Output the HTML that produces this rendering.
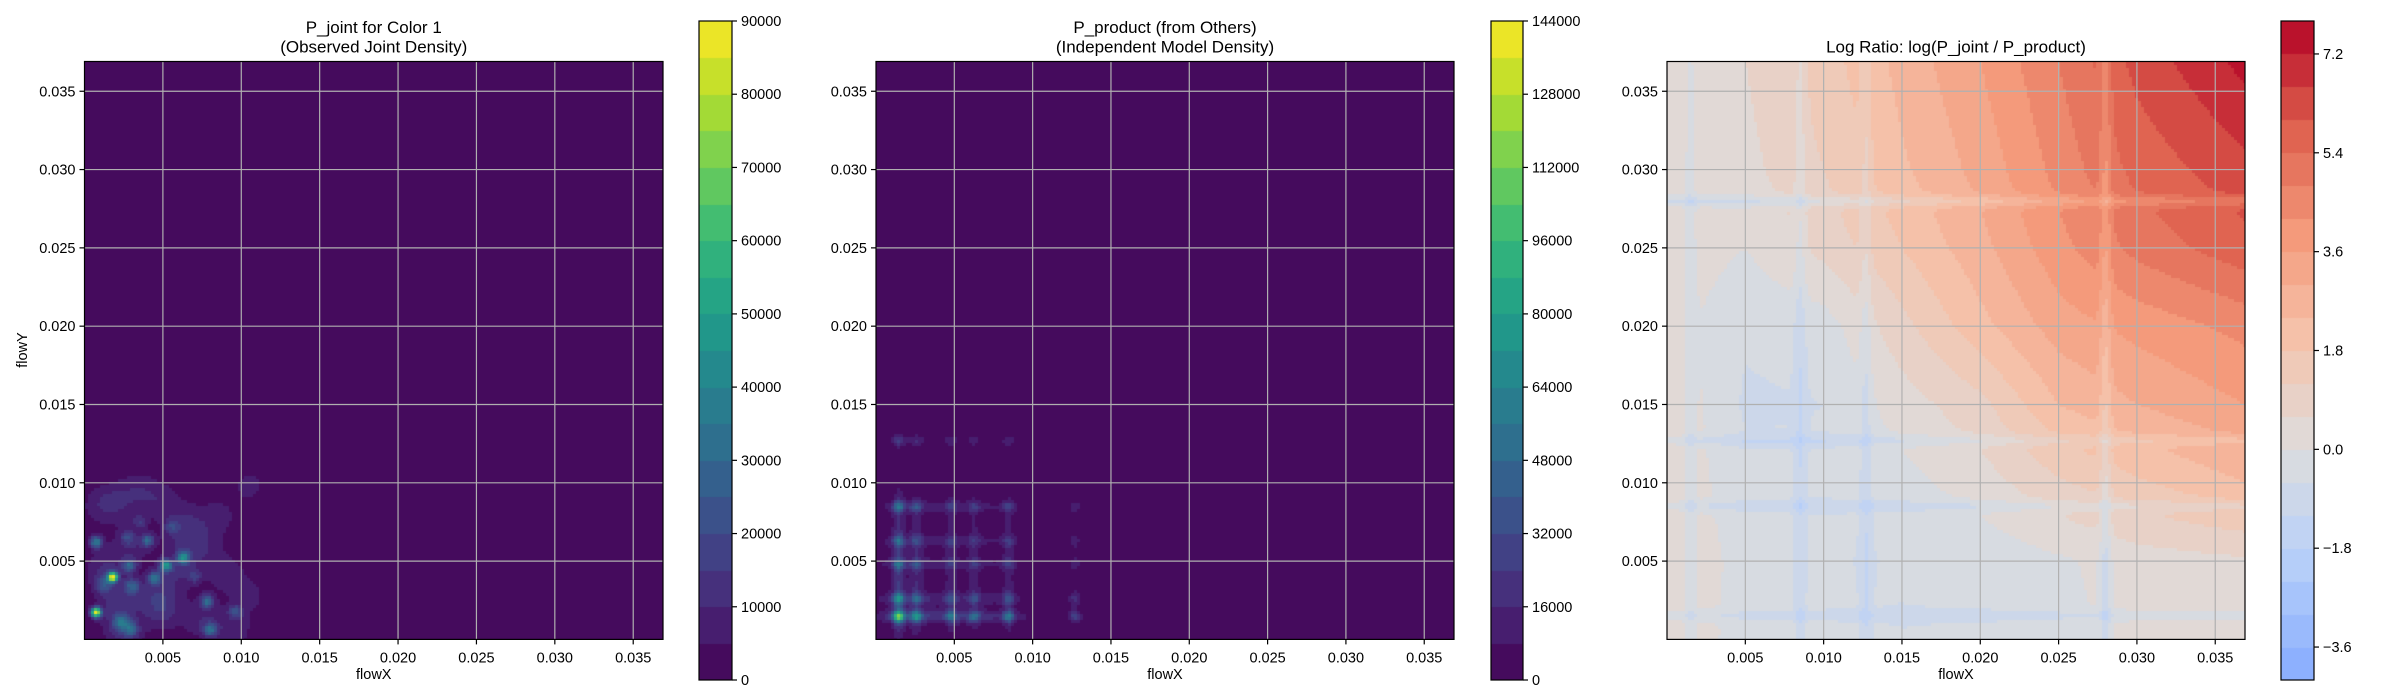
<!DOCTYPE html>
<html><head><meta charset="utf-8">
<style>
body{margin:0;background:#fff;width:2400px;height:700px;overflow:hidden;font-family:"Liberation Sans","DejaVu Sans",sans-serif;}
#root{position:relative;width:2400px;height:700px;}
canvas{position:absolute;}
svg{position:absolute;left:0;top:0;}
</style></head>
<body>
<div id="root">
<canvas id="c1"></canvas>
<canvas id="c2"></canvas>
<canvas id="c3"></canvas>
<canvas id="cb1"></canvas>
<canvas id="cb2"></canvas>
<canvas id="cb3"></canvas>
<svg id="ov" width="2400" height="700"></svg>
</div>
<script>
// ---- data ----
const axisTicks=[0.005,0.010,0.015,0.020,0.025,0.030,0.035];
const axisTickLabels=["0.005","0.010","0.015","0.020","0.025","0.030","0.035"];
const AXMAX=0.0369;
// joint density peaks: x, y, amplitude, sigma
const jointX=[0.00071,0.00177,0.00071,0.00517,0.00627,0.0040,0.00283,0.00443,0.0030,0.0023,0.00294,0.0078,0.0080,0.0096,0.0012,0.0035,0.0027,0.0055,0.0070];
const jointY=[0.0017,0.00396,0.0062,0.0047,0.0052,0.0063,0.00467,0.0039,0.00336,0.00104,0.0006,0.0024,0.0006,0.00176,0.0035,0.0075,0.0065,0.0072,0.0040];
const jointA=[85000,85000,35000,42000,38000,26000,26000,28000,24000,24000,22000,28000,26000,18000,18000,12000,14000,12000,12000];
const jointS=[0.00022,0.00022,0.00028,0.00028,0.00028,0.00028,0.0003,0.0003,0.00035,0.00035,0.0003,0.0003,0.0003,0.0003,0.0004,0.0003,0.0003,0.0003,0.0003];
// lumpy background blobs of joint density
const bgX=[0.002,0.0035,0.005,0.0065,0.0085,0.003,0.006,0.009,0.002,0.005,0.0075,0.0105,0.0105,0.0013,0.0075,0.0045,0.0025,0.0095,0.0062,0.0009];
const bgY=[0.0088,0.0095,0.0088,0.0075,0.0078,0.006,0.0043,0.0042,0.0022,0.0018,0.0012,0.0028,0.0098,0.0045,0.0058,0.0028,0.0005,0.0006,0.0065,0.0085];
const bgA=[8000,7500,7500,7000,7000,9000,9000,8000,11000,10000,9000,6500,6500,10000,8000,10000,11000,8000,7500,6500];
// product model marginal peaks
const prodPos=[0.00144,0.00258,0.0048,0.00627,0.00846,0.01268];
const prodWx=[1.0,0.55,0.42,0.38,0.5,0.25];
const prodWy=[1.0,0.55,0.42,0.38,0.5,0.24];
const prodBase=[0.18,0.18,0.14,0.14,0.13,0.05];
const prodPeak=72000;
// log ratio coarse grid (rows: y from top to 0.0)
const lrGridX=[0.0,0.005,0.010,0.015,0.020,0.025,0.030,0.0369];
const lrGridY=[0.0369,0.030,0.025,0.020,0.015,0.010,0.005,0.0];
const lrGrid=[
[0.5,0.6,1.5,2.6,3.6,4.8,6.2,7.4],
[0.3,0.4,1.2,2.3,3.2,4.4,5.6,6.4],
[0.4,0.0,0.8,1.8,2.8,4.0,5.0,5.8],
[0.3,-0.5,-0.3,1.0,2.2,3.3,3.8,4.4],
[0.6,-0.7,-0.6,0.3,1.0,2.4,3.0,3.6],
[0.5,-0.4,-0.5,-0.2,0.3,1.1,1.7,2.4],
[0.5,-0.2,-0.6,-0.6,-0.4,-0.1,0.3,0.5],
[0.4,-0.2,-0.3,-0.6,-0.5,-0.2,0.2,0.3]];
const lrStripePos=[0.0015,0.0085,0.0127,0.028];
const lrStripeAmp=[-0.6,-0.7,-0.7,-1.0];
// colorbar ticks
const cb1Ticks=[0,10000,20000,30000,40000,50000,60000,70000,80000,90000];
const cb2Ticks=[0,16000,32000,48000,64000,80000,96000,112000,128000,144000];
const cb3Ticks=[-3.6,-1.8,0.0,1.8,3.6,5.4,7.2];
const cb3Labels=["\u22123.6","\u22121.8","0.0","1.8","3.6","5.4","7.2"];

// ---- layout ----
const Y0=61.5,Y1=639.4;
const panels=[{x0:84.5,x1:663},{x0:876,x1:1454},{x0:1667,x1:2245}];
const cbs=[{x0:699,x1:732},{x0:1491,x1:1523},{x0:2281,x1:2314}];
const CBY0=21,CBY1=680;

const viridis=[[68,1,84],[72,40,120],[62,73,137],[49,104,142],[38,130,142],[31,158,137],[53,183,121],[110,206,88],[181,222,43],[253,231,37]];
const coolwarm=[[59,76,192],[98,130,234],[141,176,254],[184,208,249],[221,221,221],[245,196,173],[244,154,123],[222,96,77],[180,4,38]];
function cmap(tab,t){t=Math.max(0,Math.min(1,t));const f=t*(tab.length-1);const i=Math.min(tab.length-2,Math.floor(f));const r=f-i;
 return tab[i].map((v,k)=>Math.round(v+(tab[i+1][k]-v)*r));}

function gauss(dx,dy,s){return Math.exp(-(dx*dx+dy*dy)/(2*s*s));}
function fJoint(x,y){let v=0;for(let i=0;i<jointX.length;i++)v+=jointA[i]*gauss(x-jointX[i],y-jointY[i],jointS[i]);
 for(let i=0;i<bgX.length;i++)v+=bgA[i]*gauss(x-bgX[i],y-bgY[i],0.0009);return v;}
function marg(p,w){let v=0;for(let i=0;i<prodPos.length;i++){const d=(p-prodPos[i]);v+=w[i]*Math.exp(-d*d/(2*0.00025*0.00025));v+=prodBase[i]*Math.exp(-d*d/(2*0.0012*0.0012));}return v;}
function fProd(x,y){return prodPeak*marg(x,prodWx)*marg(y,prodWy);}
function interp(arr,v){
 const asc=arr[0]<arr[arr.length-1];for(let i=0;i<arr.length-1;i++){const a=arr[i],b=arr[i+1];
 if((asc&&v>=a&&v<=b)||(!asc&&v<=a&&v>=b))return i+(v-a)/(b-a);}return (asc? (v<arr[0]?0:arr.length-1):(v>arr[0]?0:arr.length-1));}
function fRatio(x,y){const fi=interp(lrGridX,x),fj=interp(lrGridY,y);const i=Math.min(6,Math.floor(fi)),j=Math.min(6,Math.floor(fj));const a=fi-i,b=fj-j;
 let v=lrGrid[j][i]*(1-a)*(1-b)+lrGrid[j][i+1]*a*(1-b)+lrGrid[j+1][i]*(1-a)*b+lrGrid[j+1][i+1]*a*b;
 for(let k=0;k<lrStripePos.length;k++){v+=lrStripeAmp[k]*Math.exp(-Math.pow(x-lrStripePos[k],2)/(2*0.00025*0.00025));v+=lrStripeAmp[k]*Math.exp(-Math.pow(y-lrStripePos[k],2)/(2*0.00025*0.00025));}
 return v;}

const specs=[
 {f:fJoint,lo:0,hi:90000,step:5000,col:(m)=>cmap(viridis,m/90000)},
 {f:fProd,lo:0,hi:144000,step:8000,col:(m)=>cmap(viridis,m/144000)},
 {f:fRatio,lo:-4.2,hi:7.8,step:0.6,col:(m)=>cmap(coolwarm,0.5+m/15.6)}];

function place(c,x,y,w,h){c.style.left=x+'px';c.style.top=y+'px';c.width=w;c.height=h;}
specs.forEach((s,k)=>{
 const p=panels[k];const c=document.getElementById('c'+(k+1));const x0=Math.round(p.x0),w=Math.round(p.x1)-x0,y0=Math.round(Y0),h=Math.round(Y1)-y0;
 place(c,x0,y0,w,h);const ctx=c.getContext('2d');const img=ctx.createImageData(w,h);
 const g=3;
 for(let py=0;py<h;py+=g)for(let px=0;px<w;px+=g){
  const dx=(px+g/2)/w*AXMAX,dy=(1-(py+g/2)/h)*AXMAX;let v=s.f(dx,dy);
  let lv=Math.floor((v-s.lo)/s.step);lv=Math.max(0,Math.min(Math.round((s.hi-s.lo)/s.step)-1,lv));
  const col=s.col(s.lo+(lv+0.5)*s.step);
  for(let yy=py;yy<Math.min(h,py+g);yy++)for(let xx=px;xx<Math.min(w,px+g);xx++){const o=(yy*w+xx)*4;img.data[o]=col[0];img.data[o+1]=col[1];img.data[o+2]=col[2];img.data[o+3]=255;}
 }
 ctx.putImageData(img,0,0);
 const cb=cbs[k];const cc=document.getElementById('cb'+(k+1));const cw=Math.round(cb.x1-cb.x0),ch=CBY1-CBY0;place(cc,Math.round(cb.x0),CBY0,cw,ch);
 const cx=cc.getContext('2d');const n=Math.round((s.hi-s.lo)/s.step);
 for(let i=0;i<n;i++){const col=s.col(s.lo+(i+0.5)*s.step);cx.fillStyle=`rgb(${col})`;const ya=ch-(i+1)/n*ch,yb=ch-i/n*ch;cx.fillRect(0,Math.floor(ya),cw,Math.ceil(yb)-Math.floor(ya));}
});

// ---- overlay ----
const NS='http://www.w3.org/2000/svg';const ov=document.getElementById('ov');
function el(t,a,txt){const e=document.createElementNS(NS,t);for(const k in a)e.setAttribute(k,a[k]);if(txt!==undefined)e.textContent=txt;ov.appendChild(e);return e;}
function sx(p,v){return p.x0+v/AXMAX*(p.x1-p.x0);}
function sy(v){return Y1-v/AXMAX*(Y1-Y0);}
const titles=[["P_joint for Color 1","(Observed Joint Density)"],["P_product (from Others)","(Independent Model Density)"],["Log Ratio: log(P_joint / P_product)"]];
panels.forEach((p,k)=>{
 axisTicks.forEach((t,i)=>{
  let g=el('line',{x1:sx(p,t),x2:sx(p,t),y1:Y0,y2:Y1,stroke:'#b0b0b0','stroke-width':1.2});
  
  g=el('line',{x1:p.x0,x2:p.x1,y1:sy(t),y2:sy(t),stroke:'#b0b0b0','stroke-width':1.2});
  
  el('line',{x1:sx(p,t),x2:sx(p,t),y1:Y1,y2:Y1+5,stroke:'#000','stroke-width':1.2});
  el('line',{x1:p.x0-5,x2:p.x0,y1:sy(t),y2:sy(t),stroke:'#000','stroke-width':1.2});
  let lx=el('text',{x:sx(p,t),y:Y1+23,'text-anchor':'middle','font-size':14.5},axisTickLabels[i]);
  
  let ly=el('text',{x:p.x0-9,y:sy(t)+5,'text-anchor':'end','font-size':14.5},axisTickLabels[i]);
  
 });
 const fr=el('rect',{x:p.x0,y:Y0,width:p.x1-p.x0,height:Y1-Y0,fill:'none',stroke:'#000','stroke-width':1.2});
 
 const cxm=(p.x0+p.x1)/2;const tl=titles[k];
 tl.forEach((s,i)=>{const y=tl.length===2?(33+i*19.5):52.5;const t=el('text',{x:cxm,y:y,'text-anchor':'middle','font-size':17},s);
  });
 const xl=el('text',{x:cxm,y:679,'text-anchor':'middle','font-size':14.5},'flowX');
 
 const cb=cbs[k];const s=specs[k];
 const cf=el('rect',{x:cb.x0,y:CBY0,width:cb.x1-cb.x0,height:CBY1-CBY0,fill:'none',stroke:'#000','stroke-width':1.2});
 
 const ticks=[cb1Ticks,cb2Ticks,cb3Ticks][k];
 ticks.forEach((t,i)=>{const y=CBY1-(t-s.lo)/(s.hi-s.lo)*(CBY1-CBY0);
  el('line',{x1:cb.x1,x2:cb.x1+5,y1:y,y2:y,stroke:'#000','stroke-width':1.2});
  const lab=k===2?cb3Labels[i]:String(t);
  const tt=el('text',{x:cb.x1+9,y:y+5,'font-size':14.5},lab);
  });
});
const yl=el('text',{x:0,y:0,'text-anchor':'middle','font-size':14.5,transform:'translate(27,350) rotate(-90)'},'flowY');

</script>
</body></html>
